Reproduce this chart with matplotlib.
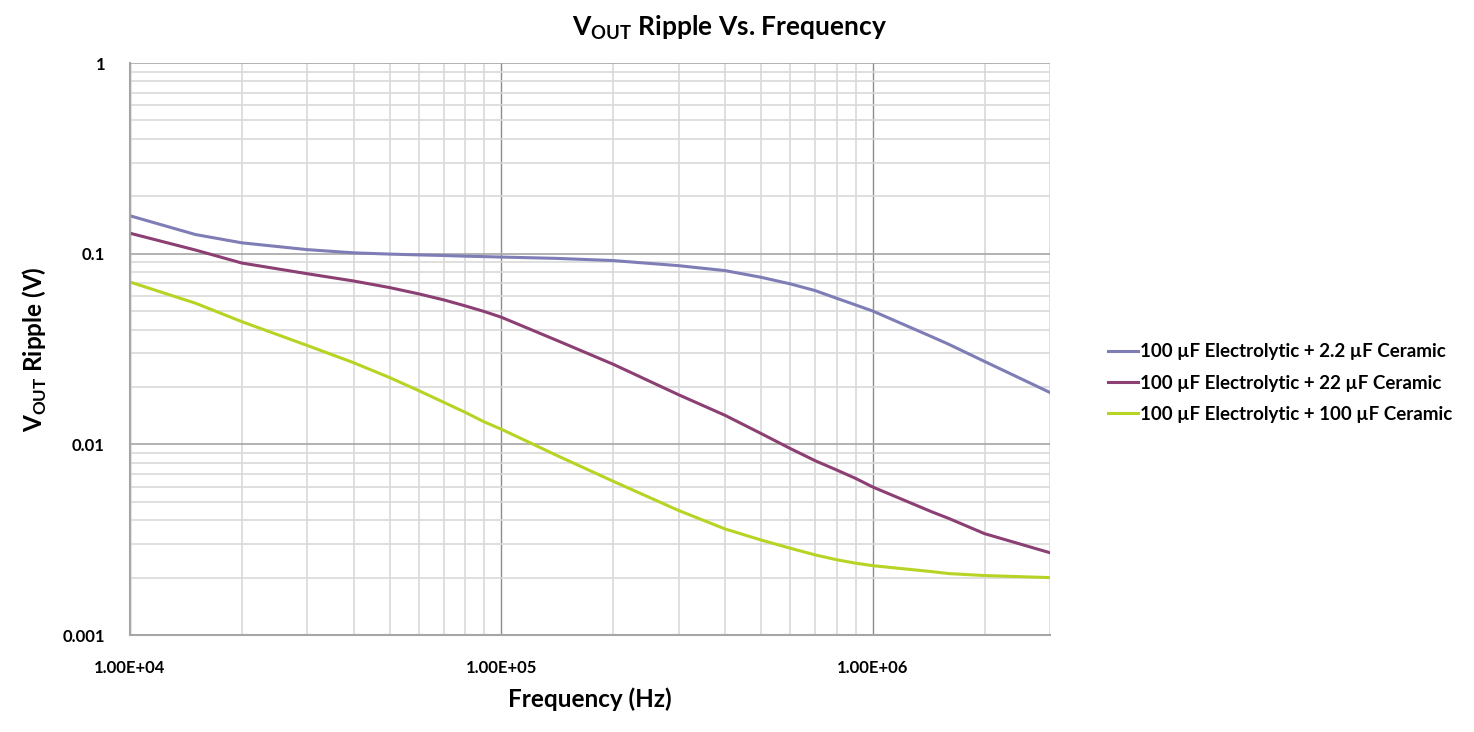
import matplotlib.pyplot as plt
import numpy as np
from matplotlib.ticker import LogLocator, FixedLocator, FuncFormatter, NullFormatter

plt.rcParams['font.family'] = ['Lato', 'DejaVu Sans']
plt.rcParams['font.weight'] = 'bold'

# frequency points (Hz)
freq = [1e4, 1.5e4, 2e4, 3e4, 4e4, 5e4, 6e4, 7e4, 8e4, 9e4, 1e5, 1.4e5, 2e5,
        3e5, 4e5, 5e5, 6e5, 7e5, 8e5, 9e5, 1e6, 1.44e6, 1.6e6, 2e6, 3e6]

# ripple (V) for each capacitor combination
ripple_2u2 = [0.158, 0.126, 0.114, 0.105, 0.101, 0.0995, 0.0985, 0.0978, 0.097, 0.0965,
              0.096, 0.0945, 0.092, 0.0865, 0.0815, 0.0752, 0.0694, 0.064, 0.0583, 0.0538,
              0.050, 0.0367, 0.0335, 0.0272, 0.0187]
ripple_22u = [0.128, 0.1045, 0.0893, 0.0785, 0.0719, 0.0664, 0.0615, 0.0572, 0.0532, 0.0497,
              0.0464, 0.0353, 0.0263, 0.0182, 0.0142, 0.0114, 0.0095, 0.0082, 0.00733, 0.00662,
              0.00597, 0.00443, 0.00409, 0.0034, 0.0027]
ripple_100u = [0.0710, 0.055, 0.044, 0.033, 0.0268, 0.0224, 0.0191, 0.0166, 0.0147, 0.0131,
               0.0120, 0.0088, 0.0064, 0.0045, 0.0036, 0.00315, 0.00285, 0.00263, 0.00248, 0.00238,
               0.00231, 0.00215, 0.0021, 0.00205, 0.0020]

labels = ["100 µF Electrolytic + 2.2 µF Ceramic",
          "100 µF Electrolytic + 22 µF Ceramic",
          "100 µF Electrolytic + 100 µF Ceramic"]
colors = ['#7F7DB6', '#8C3F72', '#B6D424']

fig = plt.figure(figsize=(14.74, 7.32), dpi=100)
ax = fig.add_axes([130 / 1474, 1 - 635 / 732, 920 / 1474, 572 / 732])

for y, lab, c in zip([ripple_2u2, ripple_22u, ripple_100u], labels, colors):
    ax.plot(freq, y, color=c, lw=2.2, label=lab)

ax.set_xscale('log')
ax.set_yscale('log')
ax.set_xlim(1e4, 3e6)
ax.set_ylim(1e-3, 1)

ax.xaxis.set_major_locator(FixedLocator([1e4, 1e5, 1e6]))
ax.xaxis.set_major_formatter(FuncFormatter(lambda v, p: '{:.2E}'.format(v)))
ax.xaxis.set_minor_locator(LogLocator(base=10, subs=np.arange(2, 10), numticks=20))
ax.xaxis.set_minor_formatter(NullFormatter())
ax.yaxis.set_major_locator(FixedLocator([1e-3, 1e-2, 1e-1, 1]))
ax.yaxis.set_major_formatter(FuncFormatter(lambda v, p: '{:g}'.format(v)))
ax.yaxis.set_minor_locator(LogLocator(base=10, subs=np.arange(2, 10), numticks=20))
ax.yaxis.set_minor_formatter(NullFormatter())

ax.grid(True, which='minor', color='#D9D9D9', lw=1.2)
ax.grid(True, which='major', axis='y', color='#A6A6A6', lw=1.2)
ax.grid(True, which='major', axis='x', color='#8C8C8C', lw=1.0)
ax.set_axisbelow(True)

ax.tick_params(which='both', length=0)
ax.tick_params(axis='y', pad=18, labelsize=12)
ax.tick_params(axis='x', pad=18, labelsize=12)
for s in ['top', 'right']:
    ax.spines[s].set_visible(False)
for s in ['left', 'bottom']:
    ax.spines[s].set_color('#A6A6A6')
    ax.spines[s].set_linewidth(1.5)

ax.set_xlabel('Frequency (Hz)', fontsize=17.5, fontweight='bold', labelpad=8)
ax.set_ylabel(r'V$_\mathregular{OUT}$ Ripple (V)', fontsize=17.5, fontweight='bold', labelpad=10)
fig.text(730 / 1474, 1 - 28 / 732, r'V$_\mathregular{OUT}$ Ripple Vs. Frequency',
         ha='center', va='center', fontsize=19, fontweight='bold')

fig.legend(loc='center left', bbox_to_anchor=(1100 / 1474, 1 - 383 / 732), frameon=False,
           fontsize=13.5, handlelength=1.6, handletextpad=0.15, labelspacing=0.75,
           borderaxespad=0)

plt.savefig('out.png', dpi=100)
